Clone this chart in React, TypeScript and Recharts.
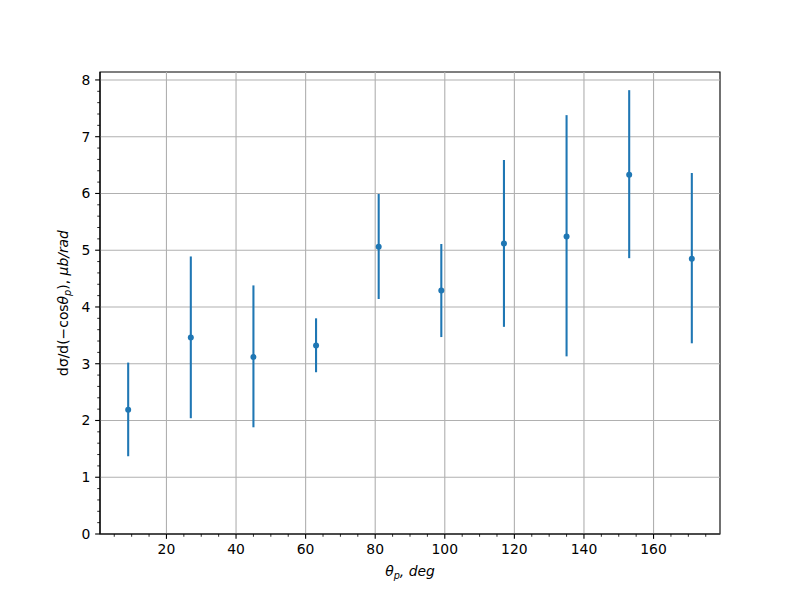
import React from 'react';
import {
  ErrorBar,
  Label,
  ReferenceArea,
  ReferenceLine,
  Scatter,
  ScatterChart,
  XAxis,
  YAxis,
} from 'recharts';

// proton angle bins, deg
const angles = [9, 27, 45, 63, 81, 99, 117, 135, 153, 171];
// dσ/d(-cosθp), μb/rad
const crossSection = [2.19, 3.46, 3.12, 3.32, 5.06, 4.29, 5.12, 5.24, 6.33, 4.85];
const lowerBound = [1.37, 2.04, 1.88, 2.85, 4.14, 3.47, 3.65, 3.13, 4.86, 3.36];
const upperBound = [3.02, 4.89, 4.38, 3.8, 5.99, 5.11, 6.59, 7.38, 7.82, 6.36];

const xMajorTicks = [20, 40, 60, 80, 100, 120, 140, 160];
const yMajorTicks = [0, 1, 2, 3, 4, 5, 6, 7, 8];
const xAllTicks = Array.from({ length: 35 }, (_, i) => 5 + i * 5);
const yAllTicks = Array.from({ length: 41 }, (_, i) => i / 5);

const xDomain: [number, number] = [0.9, 179.1];
const yDomain: [number, number] = [0, 8.14];

const blue = '#1f77b4';
const gridColor = '#b0b0b0';
const fontSize = 13.9;
const lw = 1.11; // 0.8pt at 100 dpi

const points = angles.map((x, i) => ({
  x,
  y: crossSection[i],
  err: [crossSection[i] - lowerBound[i], upperBound[i] - crossSection[i]],
}));

const isYMajor = (v: number) => Math.abs(v - Math.round(v)) < 1e-6;

function XTick(props: any) {
  const { x, y, payload } = props;
  const major = xMajorTicks.includes(payload.value);
  const len = major ? 4.86 : 2.78;
  return (
    <g>
      <line x1={x} y1={y} x2={x} y2={y + len} stroke="#000" strokeWidth={major ? lw : 0.83} />
      {major && (
        <text x={x} y={y + len + 4.86} dy="0.76em" textAnchor="middle" fontSize={fontSize} fill="#000">
          {payload.value}
        </text>
      )}
    </g>
  );
}

function YTick(props: any) {
  const { x, y, payload } = props;
  const major = isYMajor(payload.value);
  const len = major ? 4.86 : 2.78;
  return (
    <g>
      <line x1={x} y1={y} x2={x - len} y2={y} stroke="#000" strokeWidth={major ? lw : 0.83} />
      {major && (
        <text x={x - len - 4.86} y={y} dy="0.36em" textAnchor="end" fontSize={fontSize} fill="#000">
          {Math.round(payload.value)}
        </text>
      )}
    </g>
  );
}

function Dot(props: any) {
  return <circle cx={props.cx} cy={props.cy} r={3} fill={blue} />;
}

function XLabel(props: any) {
  const vb = props.viewBox;
  return (
    <text x={vb.x + vb.width / 2} y={vb.y + 42} textAnchor="middle" fontSize={fontSize} fill="#000" fontStyle="italic">
      θ
      <tspan fontSize={fontSize * 0.7} dy={3}>p</tspan>
      <tspan dy={-3}>, deg</tspan>
    </text>
  );
}

function YLabel(props: any) {
  const vb = props.viewBox;
  const cx = vb.x + vb.width - 37;
  const cy = vb.y + vb.height / 2;
  return (
    <text
      x={cx}
      y={cy}
      transform={`rotate(-90, ${cx}, ${cy})`}
      textAnchor="middle"
      dy="0.35em"
      fontSize={fontSize}
      fill="#000"
    >
      dσ/d(−cos
      <tspan fontStyle="italic">θ</tspan>
      <tspan fontStyle="italic" fontSize={fontSize * 0.7} dy={3}>p</tspan>
      <tspan dy={-3}>), </tspan>
      <tspan fontStyle="italic">μb/rad</tspan>
    </text>
  );
}

export default function App() {
  return (
    <div
      style={{
        position: 'absolute',
        left: 0,
        top: 0,
        width: 800,
        height: 600,
        background: '#fff',
        fontFamily: '"DejaVu Sans", sans-serif',
      }}
    >
      <ScatterChart width={800} height={600} margin={{ top: 72, right: 80, bottom: 0, left: 0 }}>
        <XAxis
          dataKey="x"
          type="number"
          domain={xDomain}
          allowDataOverflow
          ticks={xAllTicks}
          interval={0}
          tickSize={0}
          tickMargin={0}
          tickLine={false}
          tick={<XTick />}
          height={66}
          axisLine={{ stroke: '#000', strokeWidth: lw }}
        >
          <Label content={<XLabel />} />
        </XAxis>
        <YAxis
          dataKey="y"
          type="number"
          domain={yDomain}
          allowDataOverflow
          ticks={yAllTicks}
          interval={0}
          tickSize={0}
          tickMargin={0}
          tickLine={false}
          tick={<YTick />}
          width={100}
          axisLine={{ stroke: '#000', strokeWidth: lw }}
        >
          <Label content={<YLabel />} />
        </YAxis>
        {xMajorTicks.map((v) => (
          <ReferenceLine key={`gx${v}`} x={v} stroke={gridColor} strokeWidth={lw} />
        ))}
        {yMajorTicks.map((v) => (
          <ReferenceLine key={`gy${v}`} y={v} stroke={gridColor} strokeWidth={lw} />
        ))}
        <ReferenceArea
          x1={xDomain[0]}
          x2={xDomain[1]}
          y1={yDomain[0]}
          y2={yDomain[1]}
          fill="none"
          stroke="#000"
          strokeWidth={lw}
          ifOverflow="visible"
        />
        <Scatter data={points} fill={blue} shape={<Dot />} isAnimationActive={false}>
          <ErrorBar dataKey="err" direction="y" width={0} stroke={blue} strokeWidth={2.08} />
        </Scatter>
      </ScatterChart>
    </div>
  );
}
